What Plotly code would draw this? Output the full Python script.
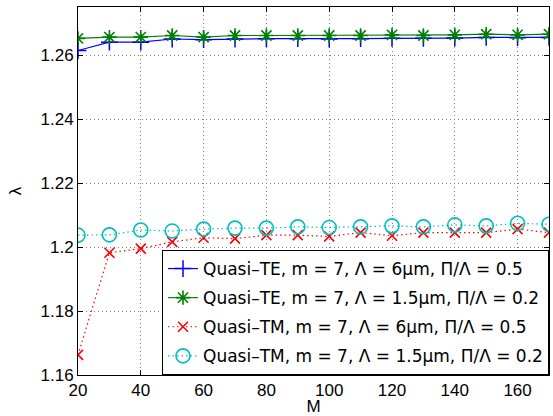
import plotly.graph_objects as go

M = [20, 30, 40, 50, 60, 70, 80, 90, 100, 110, 120, 130, 140, 150, 160, 170]

te_6um = [1.2614, 1.2640, 1.2640, 1.2650, 1.2648, 1.2650, 1.2651, 1.2651,
          1.2650, 1.2651, 1.2652, 1.2652, 1.2653, 1.2655, 1.2654, 1.2655]
te_15um = [1.2652, 1.2656, 1.2656, 1.2661, 1.2656, 1.2661, 1.2661, 1.2661,
           1.2661, 1.2661, 1.2663, 1.2661, 1.2663, 1.2665, 1.2663, 1.2665]
tm_6um = [1.1663, 1.1982, 1.1995, 1.2016, 1.2029, 1.2026, 1.2037, 1.2037,
          1.2033, 1.2045, 1.2035, 1.2045, 1.2045, 1.2045, 1.2056, 1.2045]
tm_15um = [1.2037, 1.2038, 1.2053, 1.2050, 1.2056, 1.2059, 1.2059, 1.2063,
           1.2061, 1.2063, 1.2066, 1.2063, 1.2069, 1.2066, 1.2074, 1.2071]

names = [
    "Quasi\u2013TE, m = 7, \u039b = 6\u03bcm, \u03a0/\u039b = 0.5",
    "Quasi\u2013TE, m = 7, \u039b = 1.5\u03bcm, \u03a0/\u039b = 0.2",
    "Quasi\u2013TM, m = 7, \u039b = 6\u03bcm, \u03a0/\u039b = 0.5",
    "Quasi\u2013TM, m = 7, \u039b = 1.5\u03bcm, \u03a0/\u039b = 0.2",
]

x_ticks = [20, 40, 60, 80, 100, 120, 140, 160]
y_ticks = [1.16, 1.18, 1.20, 1.22, 1.24, 1.26]
y_ticktext = ["1.16", "1.18", "1.2", "1.22", "1.24", "1.26"]

FONT = "Liberation Sans, Arial, Helvetica, sans-serif"
LFONT = "DejaVu Sans, Liberation Sans, sans-serif"

fig = go.Figure()
fig.add_trace(go.Scatter(
    x=M, y=te_6um, name=names[0], mode="lines+markers", legendgroup="a",
    line=dict(color="#0000ff", width=1.2),
    marker=dict(symbol="cross-thin", size=12, line=dict(color="#0000ff", width=1.5))))
fig.add_trace(go.Scatter(
    x=M, y=te_15um, name=names[1], mode="lines+markers", legendgroup="b",
    line=dict(color="#008000", width=1.2),
    marker=dict(symbol="asterisk-open", size=12, line=dict(color="#008000", width=1.6))))
fig.add_trace(go.Scatter(
    x=M, y=tm_6um, name=names[2], mode="lines+markers", legendgroup="c",
    line=dict(color="#ff0000", width=1.2, dash="1.5px,3px"),
    marker=dict(symbol="x-thin-open", size=10, line=dict(color="#ff0000", width=1.6))))
fig.add_trace(go.Scatter(
    x=M, y=tm_15um, name=names[3], mode="lines+markers", legendgroup="d",
    line=dict(color="#00bfbf", width=1.2, dash="1.5px,3px"),
    marker=dict(symbol="circle-open", size=14, line=dict(color="#00bfbf", width=1.6))))

axis_common = dict(
    showline=True, linecolor="black", linewidth=1, mirror="ticks",
    ticks="inside", ticklen=5, tickcolor="black",
    showgrid=True, gridcolor="#808080", griddash="1px,3px", gridwidth=1,
    zeroline=False, tickfont=dict(family=FONT, size=17, color="black"),
    automargin=False,
)

fig.update_xaxes(
    range=[20, 170], tickvals=x_ticks,
    title=dict(text="M", font=dict(family=FONT, size=17, color="black"), standoff=1),
    **axis_common)
fig.update_yaxes(
    range=[1.16, 1.275], tickvals=y_ticks, ticktext=y_ticktext,
    title=dict(text="\u03bb", font=dict(family=FONT, size=17, color="black"), standoff=14),
    **axis_common)

fig.update_layout(
    width=553, height=416,
    margin=dict(l=78, r=4, t=7, b=41),
    paper_bgcolor="white", plot_bgcolor="white",
    font=dict(family=FONT, size=16, color="black"),
    legend=dict(
        x=1, y=0, xanchor="right", yanchor="bottom",
        bgcolor="white", bordercolor="black", borderwidth=1,
        font=dict(family=LFONT, size=17, color="black"),
        tracegroupgap=4,
    ),
    showlegend=True,
)

fig.write_html("out.html", config={"displayModeBar": False},
               post_script="document.body.style.margin='0';")
